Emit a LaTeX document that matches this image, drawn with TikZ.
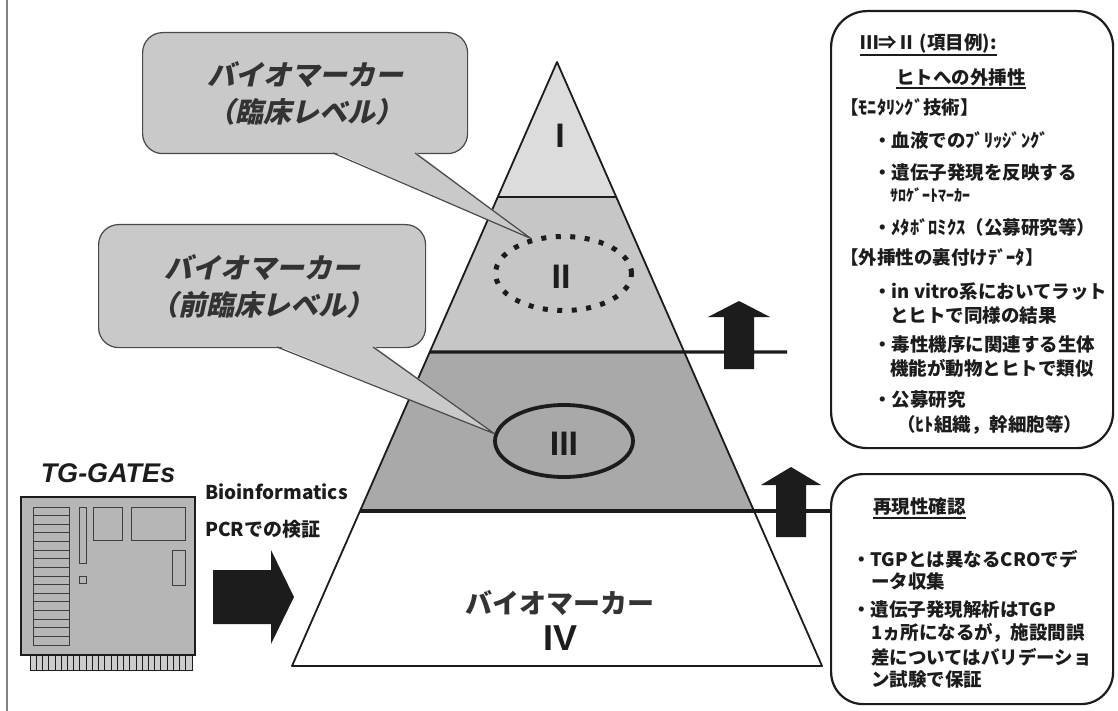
\documentclass[tikz,border=0pt]{standalone}
\usepackage{fontspec}
\setmainfont{Liberation Sans}
\newfontfamily\jp{Noto Sans CJK JP}
\newfontfamily\jpit[FakeSlant=0.22]{Noto Sans CJK JP}
\usetikzlibrary{shapes.geometric,calc}

\definecolor{ink}{HTML}{1C1C1C}
\definecolor{tierone}{HTML}{DCDCDC}
\definecolor{tiertwo}{HTML}{C6C6C6}
\definecolor{tierthree}{HTML}{A9A9A9}
\definecolor{bubble}{HTML}{C9C9C9}
\definecolor{board}{HTML}{B6B6B6}

\tikzset{
  edge/.style={draw=ink, line width=1.8pt, line join=round},
  divider/.style={draw=ink, line width=3.2pt},
  bubblebox/.style={draw=ink!80, line width=1.2pt, fill=bubble, rounded corners=20pt},
  bubbletext/.style={font=\jpit\bfseries\fontsize{28}{37}\selectfont, text=ink!90, align=center},
  numeral/.style={font=\bfseries\fontsize{34}{36}\selectfont, text=ink, inner sep=0},
  infobox/.style={draw=ink, line width=2.2pt, rounded corners=36pt, fill=white},
  boxtxt/.style={anchor=west, inner sep=0, font=\jp\bfseries\fontsize{18.5}{22}\selectfont, text=ink},
  halftxt/.style={anchor=west, inner sep=0, font=\jp\bfseries\fontsize{16}{20}\selectfont, text=ink},
  sidetxt/.style={anchor=west, inner sep=0, font=\jp\bfseries\fontsize{19}{22}\selectfont, text=ink},
  chippart/.style={draw=ink!85, line width=1pt},
  uline/.style={draw=ink, line width=1.3pt},
}

\begin{document}
\begin{tikzpicture}[x=1pt,y=-1pt]
\useasboundingbox (0,0) rectangle (1118,711);
\fill[white] (0,0) rectangle (1118,711);

% page rule at the left
\draw[ink!55, line width=1.5pt] (7,0) -- (7,711);

% ---------- pyramid ----------
\coordinate (A) at (557,62);
\coordinate (L) at (292,666);
\coordinate (R) at (822,666);
\coordinate (l1) at ($(A)!0.2235!(L)$);
\coordinate (r1) at ($(A)!0.2235!(R)$);
\coordinate (l2) at ($(A)!0.480!(L)$);
\coordinate (r2) at ($(A)!0.480!(R)$);
\coordinate (l3) at ($(A)!0.7434!(L)$);
\coordinate (r3) at ($(A)!0.7434!(R)$);

\fill[tierone] (A) -- (r1) -- (l1) -- cycle;
\fill[tiertwo] (l1) -- (r1) -- (r2) -- (l2) -- cycle;
\fill[tierthree] (l2) -- (r2) -- (r3) -- (l3) -- cycle;
\fill[white] (l3) -- (r3) -- (R) -- (L) -- cycle;
\draw[edge] (A) -- (R) -- (L) -- cycle;
\draw[ink, line width=1.6pt] (l1) -- (r1);

% information boxes on the right
\node[infobox, minimum width=282pt, minimum height=437pt, anchor=north west] (b1) at (830,10) {};
\node[infobox, rounded corners=32pt, minimum width=282pt, minimum height=230pt, anchor=north west] (b2) at (830,473) {};

% level dividers, drawn out to the right
\coordinate (ext2) at (787,352);
\draw[divider] (l2) -- (ext2);
\draw[divider] (l3) -- (l3 -| b2.west);

% upward block arrows on the dividers
\fill[ink] (739,301) -- (770,317) -- (754,317) -- (754,369) -- (724,369) -- (724,317) -- (708,317) -- cycle;
\fill[ink] (791,467) -- (821,485) -- (806,485) -- (806,537) -- (776,537) -- (776,485) -- (761,485) -- cycle;

% level numerals
\node[numeral] (n1) at (560,136) {I};
\node[numeral] (n2) at (561,277) {II};
\node[numeral] (n3) at (564,444) {III};
\node[font=\jp\bfseries\fontsize{27}{32}\selectfont, text=ink!90, inner sep=0] (n4a) at (560,603) {バイオマーカー};
\node[font=\bfseries\fontsize{36}{38}\selectfont, text=ink, inner sep=0] (n4b) at (560,638) {IV};

% rings around II and III
\node[ellipse, draw=ink, line width=5pt, dash pattern=on 5pt off 9.5pt,
      minimum width=136pt, minimum height=74pt, inner sep=0] (e2) at (563.5,273.5) {};
\node[ellipse, draw=ink, line width=3.8pt,
      minimum width=138pt, minimum height=72pt, inner sep=0] (e3) at (564,441) {};

% ---------- speech bubbles ----------
\node[bubblebox, minimum width=325pt, minimum height=121pt, anchor=north west] (c1) at (142,32) {};
\fill[bubble] (333,151.5) -- (e2.133) -- (415,151.5) -- cycle;
\draw[ink!80, line width=1.2pt, line join=round] (333,153) -- (e2.133) -- (415,153);
\node[bubbletext] (c1t) at (c1.center) {バイオマーカー\\（臨床レベル）};

\node[bubblebox, minimum width=327pt, minimum height=123pt, anchor=north west] (c2) at (98,224) {};
\fill[bubble] (277,345.5) -- (e3.174) -- (373,345.5) -- cycle;
\draw[ink!80, line width=1.2pt, line join=round] (277,347) -- (e3.174) -- (373,347);
\node[bubbletext] (c2t) at (c2.center) {バイオマーカー\\（前臨床レベル）};

% ---------- TG-GATEs chip ----------
\node[font=\bfseries\itshape\fontsize{27}{30}\selectfont, text=ink, inner sep=0] (tg) at (108,473) {TG-GATEs};
\draw[ink, line width=1.3pt, fill=board] (21,497) rectangle (195,655);
\draw[ink, line width=1pt, fill=board!70] (30,655) rectangle (192,670);
\foreach \i in {1,...,26} \draw[ink, line width=0.8pt] (30+\i*6.23,655) -- ++(0,15);
\draw[chippart] (33,507) rectangle (69,645);
\foreach \i in {1,...,15} \draw[chippart] (33,507+\i*8.625) -- (69,507+\i*8.625);
\draw[chippart] (79,507) rectangle (86,563);
\draw[chippart] (79,576) rectangle (86,583);
\draw[chippart] (93,507) rectangle (122,540);
\draw[chippart] (131,507) rectangle (185,540);
\draw[chippart] (172,550) rectangle (185,585);

\node[sidetxt] (bio) at (205,492) {\bfseries Bioinformatics};
\node[sidetxt] (pcr) at (205,529) {PCRでの検証};

\fill[ink] (213,570) -- (271,570) -- (271,550) -- (294,597) -- (271,644) -- (271,624) -- (213,624) -- cycle;

% ---------- texts of the upper box ----------
\node[boxtxt] (h1) at (860,43) {Ⅲ⇒Ⅱ (項目例):};
\draw[uline] ([yshift=-2pt]h1.south west) -- ([yshift=-2pt]h1.south east);
\node[boxtxt, anchor=center] (h2) at (961,77) {ヒトへの外挿性};
\draw[uline] ([yshift=-2pt]h2.south west) -- ([yshift=-2pt]h2.south east);
\node[boxtxt] (s1) at (840,107) {【ﾓﾆﾀﾘﾝｸﾞ技術】};
\node[boxtxt] (p1) at (873,140) {・血液でのﾌﾞﾘｯｼﾞﾝｸﾞ};
\node[boxtxt] (p2) at (873,173) {・遺伝子発現を反映する};
\node[halftxt] (p2b) at (890,195) {ｻﾛｹﾞｰﾄﾏｰｶｰ};
\node[boxtxt] (p3) at (873,227) {・ﾒﾀﾎﾞﾛﾐｸｽ（公募研究等）};
\node[boxtxt] (s2) at (840,257) {【外挿性の裏付けﾃﾞｰﾀ】};
\node[boxtxt] (q1) at (873,292) {・in vitro系においてラット};
\node[boxtxt] (q1b) at (890,315) {とヒトで同様の結果};
\node[boxtxt] (q2) at (873,345) {・毒性機序に関連する生体};
\node[boxtxt] (q2b) at (890,368) {機能が動物とヒトで類似};
\node[boxtxt] (q3) at (873,400) {・公募研究};
\node[boxtxt] (q3b) at (897,425) {（ﾋﾄ組織，幹細胞等）};

% ---------- texts of the lower box ----------
\node[boxtxt] (k0) at (873,507) {再現性確認};
\draw[uline] ([yshift=-2pt]k0.south west) -- ([yshift=-2pt]k0.south east);
\node[boxtxt] (k1) at (852,559) {・TGPとは異なるCROでデ};
\node[boxtxt] (k1b) at (871,581) {ータ収集};
\node[boxtxt] (k2) at (852,610) {・遺伝子発現解析はTGP};
\node[boxtxt] (k2b) at (871,633) {1ヵ所になるが，施設間誤};
\node[boxtxt] (k2c) at (871,657) {差についてはバリデーショ};
\node[boxtxt] (k2d) at (871,679) {ン試験で保証};
\end{tikzpicture}
\end{document}
